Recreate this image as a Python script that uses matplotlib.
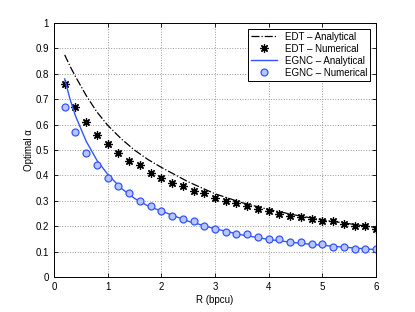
import numpy as np
import matplotlib.pyplot as plt

plt.rcParams['font.family'] = ['Liberation Sans', 'DejaVu Sans']
plt.rcParams['font.size'] = 7

# numerical points, R = 0.2 ... 6.0
R_num = np.arange(1, 31) * 0.2
edt_num = [0.76, 0.67, 0.61, 0.56, 0.525, 0.49, 0.458, 0.44, 0.41, 0.389,
           0.369, 0.36, 0.34, 0.33, 0.31, 0.30, 0.29, 0.28, 0.269, 0.26,
           0.25, 0.239, 0.237, 0.228, 0.22, 0.219, 0.21, 0.20, 0.20, 0.189]
egnc_num = [0.67, 0.57, 0.49, 0.44, 0.389, 0.36, 0.33, 0.30, 0.278, 0.26,
            0.239, 0.228, 0.219, 0.20, 0.189, 0.178, 0.169, 0.168, 0.159, 0.15,
            0.15, 0.139, 0.139, 0.129, 0.129, 0.119, 0.119, 0.11, 0.11, 0.11]

# analytical curves
R_an = [0.2, 0.3, 0.4, 0.6, 0.8, 1.0, 1.25, 1.5, 1.75, 2.0, 2.5, 3.0, 3.5,
        4.0, 4.5, 5.0, 5.5, 6.0]
edt_an = [0.875, 0.83, 0.79, 0.715, 0.65, 0.598, 0.545, 0.50, 0.463, 0.432, 0.375,
          0.328, 0.293, 0.266, 0.244, 0.225, 0.21, 0.195]
egnc_an = [0.78, 0.70, 0.635, 0.535, 0.46, 0.405, 0.35, 0.31, 0.28, 0.26, 0.22,
           0.19, 0.166, 0.148, 0.135, 0.125, 0.116, 0.108]

fig = plt.figure(figsize=(4.15, 3.12), dpi=100)
ax = fig.add_axes([0.130, 0.112, 0.776, 0.814])

ax.plot(R_an, edt_an, color='black', linestyle='-.', linewidth=0.9,
        label='EDT – Analytical')
ax.plot(R_num, edt_num, linestyle='none', marker=(8, 2, 0), markersize=6,
        markeredgewidth=0.9, color='black', label='EDT – Numerical')
ax.plot(R_an, egnc_an, color='#3355ff', linewidth=1.0,
        label='EGNC – Analytical')
ax.plot(R_num, egnc_num, linestyle='none', marker='o', markersize=5,
        markerfacecolor='#b8c6ff', markeredgecolor='#3355ff',
        markeredgewidth=0.9, label='EGNC – Numerical')

ax.set_xlim(0, 6)
ax.set_ylim(0, 1)
ax.set_xticks(range(7))
ax.set_yticks(np.arange(0, 1.01, 0.1))
ax.set_yticklabels(['0', '0.1', '0.2', '0.3', '0.4', '0.5', '0.6', '0.7',
                    '0.8', '0.9', '1'])
ax.grid(True, linestyle=':', color='#999999', linewidth=0.7)
ax.tick_params(direction='in', top=True, right=True, length=3, width=0.6)
for s in ax.spines.values():
    s.set_linewidth(0.7)

ax.set_xlabel('R (bpcu)', labelpad=2)
ax.set_ylabel('Optimal α', labelpad=1)

leg = ax.legend(loc='upper right', fancybox=False, edgecolor='black',
                framealpha=1, borderaxespad=0.6, handlelength=2.7,
                labelspacing=0.2, borderpad=0.3)
leg.get_frame().set_linewidth(0.7)

fig.savefig('out.png', dpi=100)
